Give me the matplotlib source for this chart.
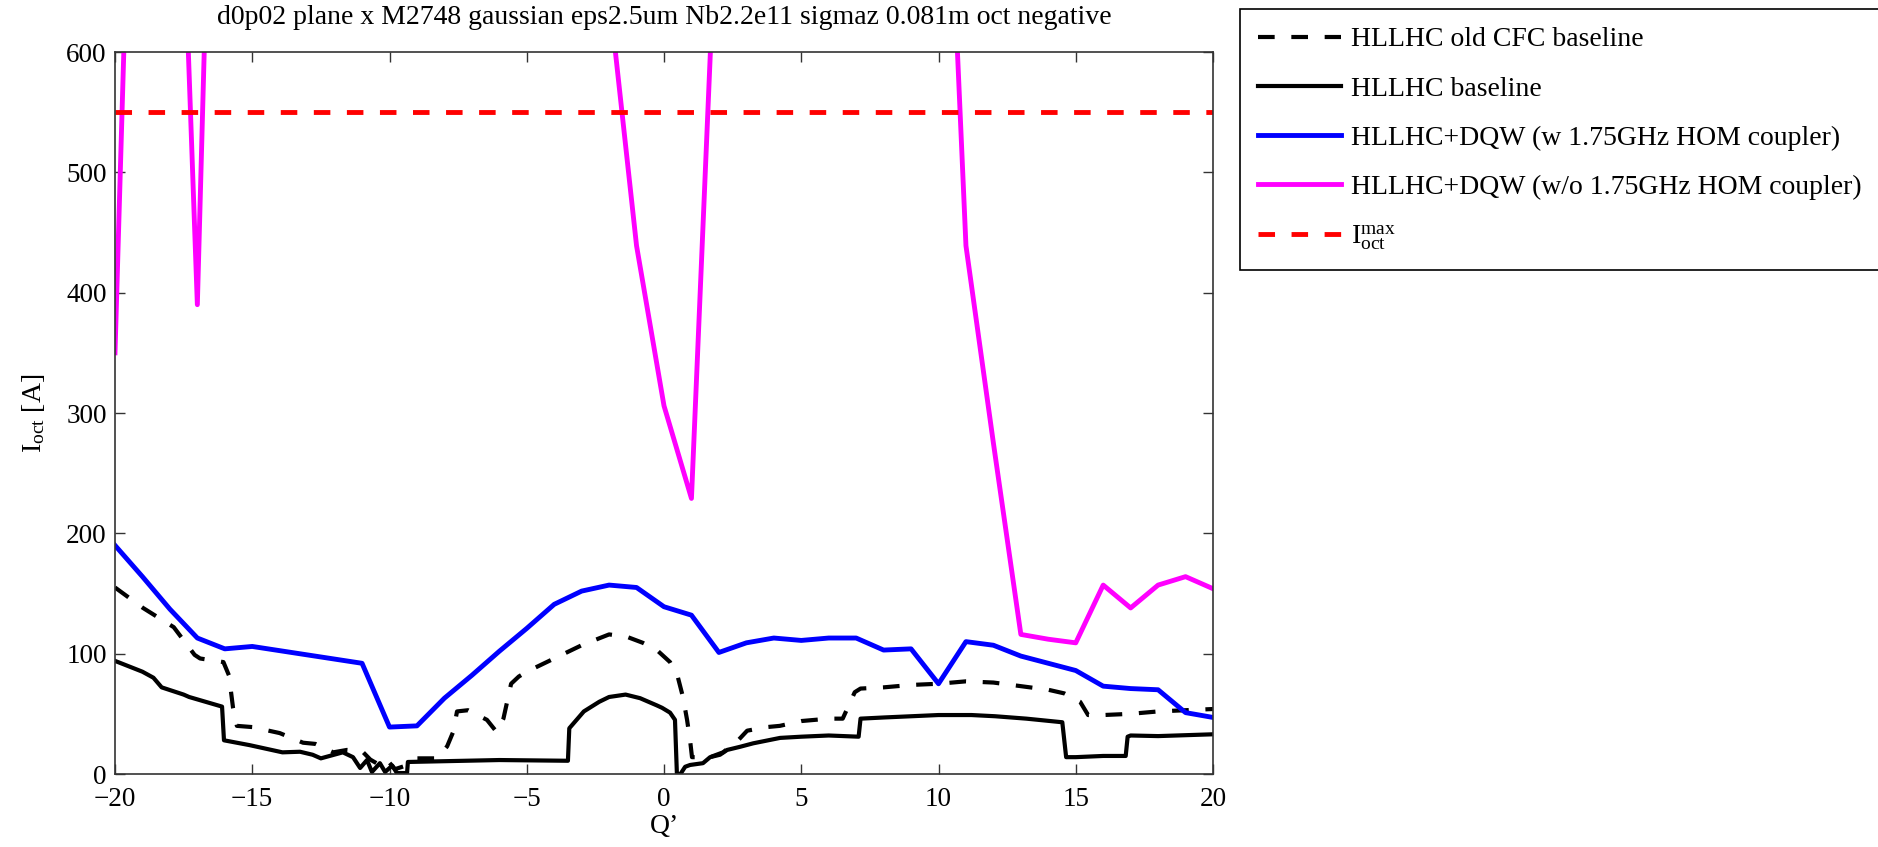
import numpy as np
import matplotlib
matplotlib.use('Agg')
import matplotlib.pyplot as plt

plt.rcParams['font.family'] = ['Liberation Serif', 'DejaVu Serif']
plt.rcParams['mathtext.fontset'] = 'custom'
plt.rcParams['mathtext.rm'] = 'Liberation Serif'
plt.rcParams['mathtext.it'] = 'Liberation Serif:italic'

# HLLHC old CFC baseline (dashed black)
q_old = [-20, -18.98, -17.86, -17.1, -16.9, -16.05, -15.85, -15.7, -15.56, -15, -14, -13.15, -12.7,
         -12.05, -11.55, -11, -10.7, -10.4, -10.1, -9.8, -9.4, -9, -8.63, -8.27, -7.9, -7.68, -7.54,
         -7.14, -6.45, -6.1, -5.85, -5.57, -5.29, -5, -4, -3, -2, -1.35, -0.77, -0.26, 0.22, 0.51,
         0.69, 0.84, 0.95, 1.02, 1.68, 2.15, 2.66, 3.03, 3.75, 4.22, 5, 6, 6.51, 6.95, 7.16, 8, 9,
         10, 11, 12, 13, 14, 14.58, 15.16, 15.45, 16, 17, 18, 19, 20]
i_old = [155, 138, 122, 99, 96, 93, 82, 55, 40, 39, 34, 26, 25,
         18, 20, 19, 12, 8, 12, 4, 7, 13, 13, 13, 23, 35, 52,
         53, 45, 35, 46, 75, 81, 85, 96, 107, 116, 114, 109, 103, 93, 80,
         64, 45, 28, 14, 14, 18, 27, 36, 39, 40, 44, 46, 46, 68, 71, 72, 74,
         75, 77, 76, 73, 70, 67, 60, 49, 49, 50, 52, 53, 54]

# HLLHC baseline (solid black)
q_base = [-20, -19, -18.6, -18.3, -17.5, -17.3, -16.1, -16.03, -15.1, -13.9, -13.26, -12.8, -12.5,
          -11.7, -11.33, -11.07, -10.82, -10.64, -10.35, -10.16, -9.9, -9.73, -9.36, -9.33, -6,
          -3.5, -3.45, -2.92, -2.36, -2.0, -1.4, -0.87, -0.26, -0.07, 0.22, 0.4, 0.47, 0.6, 0.77,
          0.95, 1.42, 1.68, 2.04, 2.3, 2.77, 3.25, 4.23, 5, 6, 7.09, 7.16, 8.03, 10, 11.2, 12.06,
          13.2, 14.51, 14.65, 15, 16, 16.82, 16.89, 17, 18, 20]
i_base = [94, 85, 80, 72, 66, 64, 56, 28, 24, 18, 18.5, 16, 13,
          18, 14, 5, 11.6, 1.7, 9, 1.7, 7, 0.8, 0.8, 10, 11.6,
          11, 38, 52, 60, 64, 66, 63, 57, 55, 51, 45, 0, 0, 6,
          7.5, 9, 14, 16, 20, 22.6, 25.5, 30, 31, 32, 31, 46, 47, 49, 49, 48,
          46, 43, 14, 14, 15, 15, 31, 32, 31.5, 33]

# HLLHC+DQW with 1.75GHz HOM coupler (blue)
q_hom = [-20, -19, -18, -17, -16, -15, -11, -10, -9, -8, -7, -6, -5, -4, -3, -2, -1, 0, 1, 2, 3,
         4, 5, 6, 7, 8, 9, 10, 11, 12, 13, 14, 15, 16, 17, 18, 19, 20]
i_hom = [190, 164, 137, 113, 104, 106, 92, 39, 40, 63, 82, 102, 121, 141, 152, 157, 155, 139, 132,
         101, 109, 113, 111, 113, 113, 103, 104, 75, 110, 107, 98, 92, 86, 73, 71, 70, 51, 47]

# HLLHC+DQW without 1.75GHz HOM coupler (magenta), off-scale values estimated
q_nohom = [-20, -19, -18, -17, -16, -15, -3, -2, -1, 0, 1, 2, 3, 9, 10, 11, 12, 13, 14, 15, 16,
           17, 18, 19, 20]
i_nohom = [350, 1130, 1030, 390, 1230, 1500, 1500, 648, 439, 306, 229, 767, 1500, 1500, 959, 439,
           275, 116, 112, 109, 157, 138, 157, 164, 154]

i_oct_max = 550

fig = plt.figure(figsize=(18.78, 8.47), dpi=100)
ax = fig.add_axes([115/1878, 1 - 774/847, 1098/1878, 722/847])

ax.plot(q_old, i_old, color='black', lw=3, dashes=(4, 4), label='HLLHC old CFC baseline')
ax.plot(q_base, i_base, color='black', lw=3, label='HLLHC baseline')
ax.plot(q_hom, i_hom, color='#0000ff', lw=3.5, label='HLLHC+DQW (w 1.75GHz HOM coupler)')
ax.plot(q_nohom, i_nohom, color='#ff00ff', lw=3.5, label='HLLHC+DQW (w/o 1.75GHz HOM coupler)')
ax.axhline(i_oct_max, color='#ff0000', lw=3.5, dashes=(3.4, 3.4),
           label=r'$\mathregular{I_{oct}^{max}}$')

ax.set_xlim(-20, 20)
ax.set_ylim(0, 600)
ax.set_xticks(np.arange(-20, 21, 5))
ax.set_yticks(np.arange(0, 601, 100))
ax.tick_params(direction='in', length=7, width=1, top=True, right=True,
               labelsize=19.5, colors='#333333', labelcolor='black')
ax.tick_params(axis='x', pad=9)
ax.tick_params(axis='y', pad=6)
for s in ax.spines.values():
    s.set_color('#333333')
    s.set_linewidth(1.2)

ax.set_xlabel('Q\u2019', fontsize=20, labelpad=2)
ax.set_ylabel(r'$\mathregular{I_{oct}}$ [A]', fontsize=20, labelpad=14)
ax.set_title('d0p02 plane x M2748 gaussian eps2.5um Nb2.2e11 sigmaz 0.081m oct negative',
             fontsize=20, pad=20)

leg = fig.legend(loc='upper left', bbox_to_anchor=(1240/1878, 1 - 9/847), fontsize=20,
                 handlelength=3.0, handletextpad=0.35, borderpad=0.65, labelspacing=0.85,
                 fancybox=False, framealpha=1, edgecolor='black', borderaxespad=0)
leg.get_frame().set_linewidth(1.2)

fig.savefig('out.png', dpi=100)
